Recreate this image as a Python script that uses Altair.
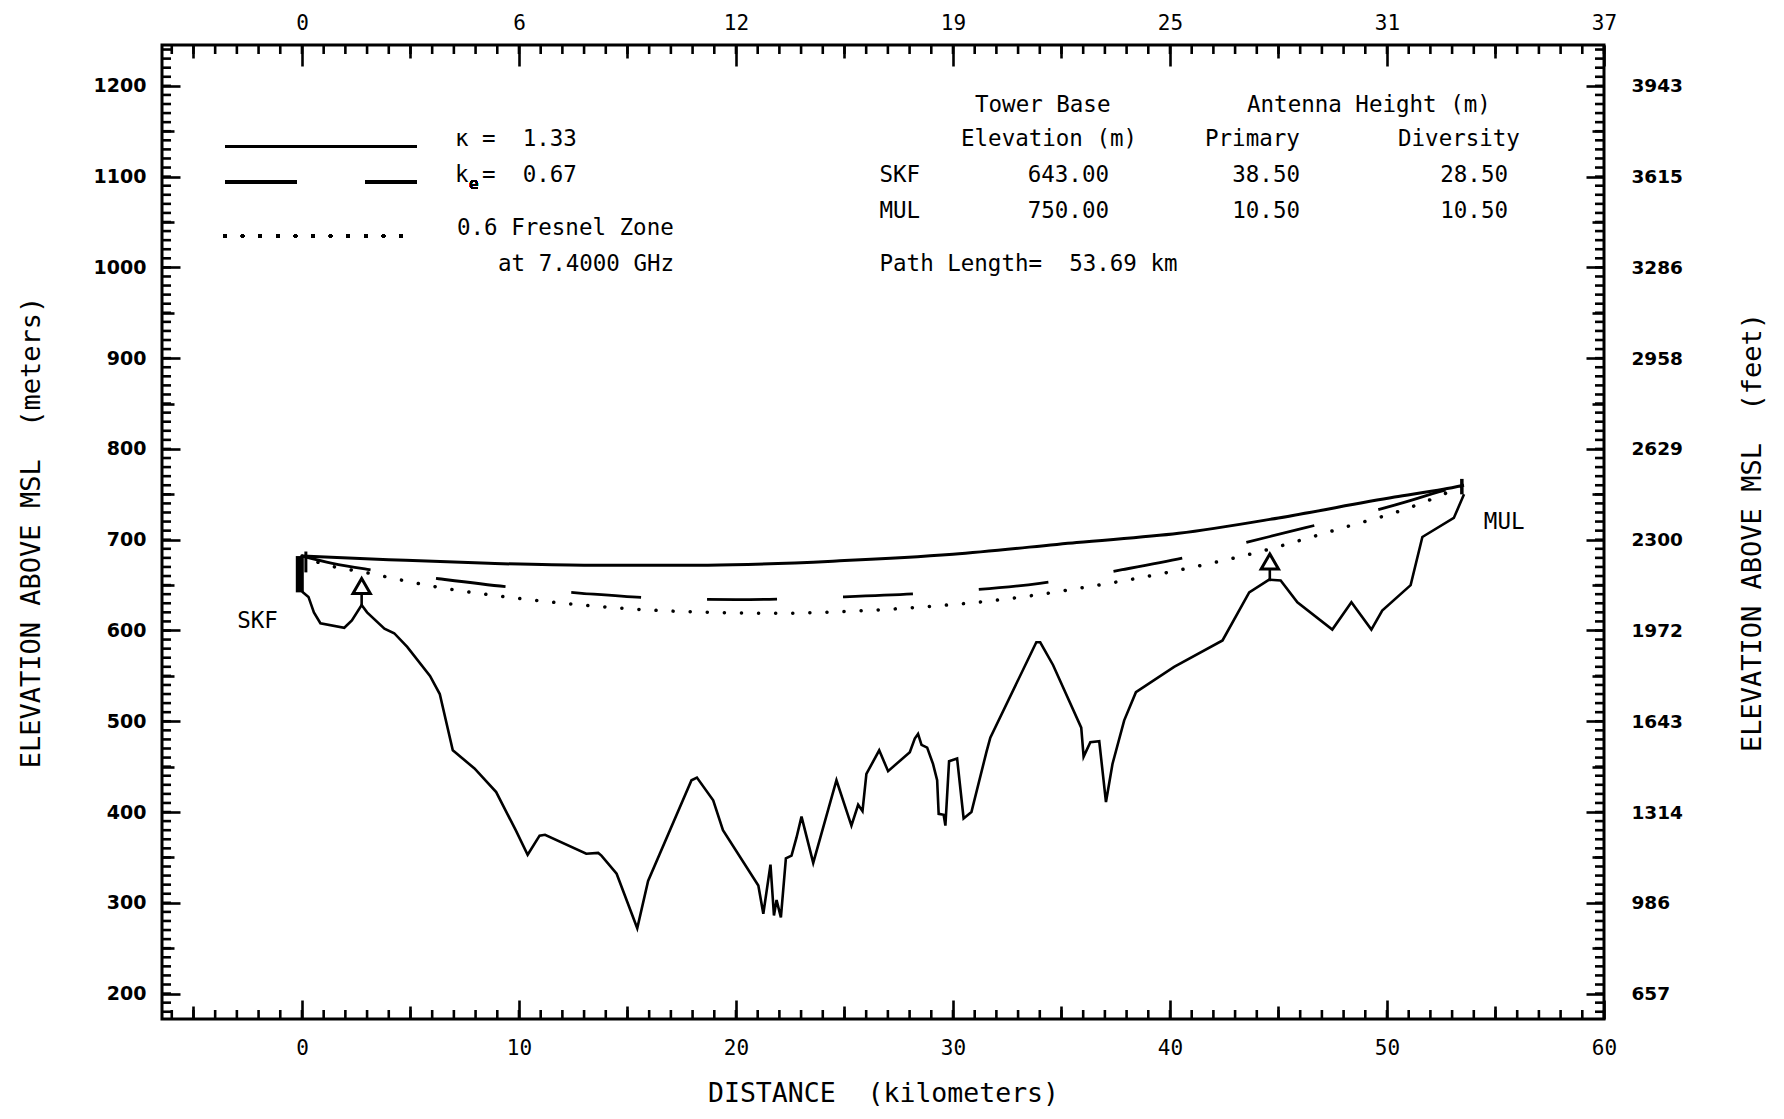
import json
import altair as alt
import pandas as pd

# ---------------- data ----------------
TERRAIN_KM = [0.0, 0.3, 0.55, 0.85, 1.95, 2.3, 2.75, 3.0, 3.8, 4.25, 4.85, 5.9, 6.35, 6.95,
              7.95, 8.95, 9.85, 10.4, 10.95, 11.2, 13.1, 13.65, 13.8, 14.5, 15.45, 15.95,
              17.95, 18.2, 18.95, 19.4, 21.03, 21.26, 21.59, 21.75, 21.87, 22.07, 22.3,
              22.56, 22.79, 23.02, 23.56, 24.63, 25.32, 25.63, 25.83, 26.01, 26.6, 27.01,
              28.01, 28.24, 28.39, 28.55, 28.81, 29.08, 29.27, 29.34, 29.57, 29.65, 29.82,
              30.19, 30.49, 30.85, 31.54, 31.72, 33.84, 34.02, 34.61, 35.91, 36.02, 36.33,
              36.74, 37.05, 37.35, 37.89, 38.43, 40.19, 42.42, 43.65, 44.57, 45.1, 45.87,
              47.48, 48.36, 49.28, 49.78, 51.09, 51.63, 53.08, 53.55]
TERRAIN_M = [643, 637, 620, 608, 603, 611, 628, 620, 602, 597, 582, 550, 530, 468,
             448, 422, 380, 353, 374, 375, 354, 355, 352, 332, 272, 324,
             435, 438, 413, 380, 319, 288, 342, 286, 303, 284, 349,
             352, 372, 395, 344, 435, 385, 408, 401, 442, 468, 445,
             466, 481, 486, 474, 471, 453, 435, 398, 397, 385, 456,
             459, 393, 400, 466, 482, 587, 587, 562, 493, 461, 477,
             478, 411, 453, 501, 532, 560, 589, 642, 656, 655, 631,
             601, 631, 601, 622, 650, 703, 724, 750]

K133_KM = [0, 4, 8.6, 13, 18.7, 25, 30, 35.7, 40.4, 45, 50.35, 52.6, 53.55]
K133_M = [682, 678, 674, 672, 672, 677, 684, 697, 707, 724, 747, 755.5, 760]

K067_KM = [0, 1.4, 3.1, 6.3, 9.9, 12.9, 16, 20, 25, 30, 34, 37.8, 41, 43, 46.2, 50.35, 52.6, 53.55]
K067_M = [682, 674, 667, 657, 647, 641, 636, 634, 637, 643, 652, 667, 682, 694, 713, 738, 754, 760]

FRES_KM = [0, 0.75, 3.1, 6.2, 9.4, 12.5, 15.7, 18.8, 22, 26, 29.2, 31.5, 36.2, 40.1, 44, 47.8, 51, 52.5, 53.55]
FRES_M = [682, 675, 663, 648, 637, 629, 623, 620, 619, 622, 627, 632, 648, 665, 686, 712, 735, 749, 760]

OBST_KM = [2.75, 44.6]
OBST_GROUND = [628, 656]
OBST_BASE = [641, 667]
OBST_MARK = [649, 676]

SITE_NAMES = ["SKF", "MUL"]
SITE_LABEL_KM = [-2.05, 55.4]
SITE_LABEL_M = [610, 719]

X_TICKS = [0, 10, 20, 30, 40, 50, 60]
TOP_LABELS = ["0", "6", "12", "19", "25", "31", "37"]
Y_TICKS = [200, 300, 400, 500, 600, 700, 800, 900, 1000, 1100, 1200]
FEET_LABELS = ["657", "986", "1314", "1643", "1972", "2300", "2629", "2958", "3286", "3615", "3943"]

X_MID = [-5, 5, 15, 25, 35, 45, 55]
X_MINOR = list(range(-6, 61))
Y_MID = list(range(250, 1200, 100))
Y_MINOR = list(range(180, 1241, 10))

NB = "\u00a0"  # keeps double spaces in SVG text

# ---------------- layout ----------------
W, H = 1442, 974
XS = alt.Scale(domain=[-6.45, 60], nice=False, zero=False)
YS = alt.Scale(domain=[172, 1245], nice=False, zero=False)
MONO = "DejaVu Sans Mono"
TXT = 22.5

terr = pd.DataFrame({"km": TERRAIN_KM, "m": TERRAIN_M})
k133 = pd.DataFrame({"km": K133_KM, "m": K133_M})
k067 = pd.DataFrame({"km": K067_KM, "m": K067_M})
fres = pd.DataFrame({"km": FRES_KM, "m": FRES_M})
obst = pd.DataFrame({"km": OBST_KM, "g": OBST_GROUND, "b": OBST_BASE, "t": OBST_MARK})
sites = pd.DataFrame({"name": SITE_NAMES, "km": SITE_LABEL_KM, "m": SITE_LABEL_M})
towers = pd.DataFrame({"km": [-0.1, 53.45], "b": [642, 750], "t": [682, 767], "w": [8, 3.5]})
mast = pd.DataFrame({"km": [0.18], "b": [664], "t": [687]})
xminor = pd.DataFrame({"xv": X_MINOR})
yminor = pd.DataFrame({"yv": Y_MINOR})

X = lambda f="km": alt.X(f"{f}:Q", scale=XS, axis=None)
Y = lambda f="m": alt.Y(f"{f}:Q", scale=YS, axis=None)

terrain_line = alt.Chart(terr).mark_line(color="black", strokeWidth=2.6).encode(x=X(), y=Y(), order="km:Q")
k133_line = alt.Chart(k133).mark_line(color="black", strokeWidth=3, interpolate="monotone").encode(x=X(), y=Y())
k067_line = alt.Chart(k067).mark_line(color="black", strokeWidth=2.8, interpolate="monotone",
                                      strokeDash=[70, 66]).encode(x=X(), y=Y())
fres_line = alt.Chart(fres).mark_line(color="black", strokeWidth=3.5, interpolate="monotone",
                                      strokeDash=[0.1, 17], strokeCap="round").encode(x=X(), y=Y())
stems = alt.Chart(obst).mark_rule(color="black", strokeWidth=2.6).encode(x=X(), y=Y("g"), y2="b:Q")
tris = alt.Chart(obst).mark_point(shape="triangle-up", filled=True, fill="white", stroke="black",
                                  strokeWidth=3, size=300, opacity=1).encode(x=X(), y=Y("t"))
tower_rules = alt.Chart(towers).mark_rule(color="black").encode(
    x=X(), y=Y("b"), y2="t:Q", strokeWidth=alt.StrokeWidth("w:Q", scale=None, legend=None))
mast_rule = alt.Chart(mast).mark_rule(color="black", strokeWidth=3).encode(x=X(), y=Y("b"), y2="t:Q")
site_text = alt.Chart(sites).mark_text(font=MONO, fontSize=TXT, color="black").encode(
    x=X(), y=Y(), text="name:N")

# minor inward ticks on all four sides of the frame
MT = 2.6
minor_bottom = alt.Chart(xminor).mark_rule(color="black", strokeWidth=MT).encode(
    x=X("xv"), y=alt.value(H), y2=alt.value(H - 9))
minor_top = alt.Chart(xminor).mark_rule(color="black", strokeWidth=MT).encode(
    x=X("xv"), y=alt.value(0), y2=alt.value(9))
minor_left = alt.Chart(yminor).mark_tick(color="black", orient="horizontal", size=9, thickness=MT,
                                         opacity=1).encode(y=Y("yv"), x=alt.value(4.5))
minor_right = alt.Chart(yminor).mark_tick(color="black", orient="horizontal", size=9, thickness=MT,
                                          opacity=1).encode(y=Y("yv"), x=alt.value(W - 4.5))

# legend samples (pixel positions in the plot area)
leg_solid = alt.Chart(terr).mark_rule(color="black", strokeWidth=2.8).encode(
    x=alt.value(63), x2=alt.value(255), y=alt.value(101.5))
leg_dash = alt.Chart(terr).mark_rule(color="black", strokeWidth=2.8, strokeDash=[72, 68]).encode(
    x=alt.value(63), x2=alt.value(255), y=alt.value(137))
leg_dot = alt.Chart(terr).mark_rule(color="black", strokeWidth=3.5, strokeDash=[0.1, 17.5],
                                    strokeCap="round").encode(
    x=alt.value(63), x2=alt.value(240), y=alt.value(191))

LEFT_TEXT = [f"κ ={NB}{NB}1.33", "k", f"={NB}{NB}0.67", "0.6 Fresnel Zone", "at 7.4000 GHz",
             "Tower Base", "Antenna Height (m)", "Elevation (m)", "Primary", "Diversity",
             "SKF", "MUL", f"Path Length={NB}{NB}53.69 km"]
LEFT_X = [293, 293, 320, 295, 336, 813, 1085, 799, 1043, 1236, 717.5, 717.5, 717.5]
LEFT_Y = [94, 130, 130, 183, 219, 60, 60, 94, 94, 94, 130, 166, 219]
RIGHT_TEXT = ["643.00", "38.50", "28.50", "750.00", "10.50", "10.50"]
RIGHT_X = [947, 1138, 1346, 947, 1138, 1346]
RIGHT_Y = [130, 130, 130, 166, 166, 166]

lt = pd.DataFrame({"t": LEFT_TEXT, "px": LEFT_X, "py": LEFT_Y})
rt = pd.DataFrame({"t": RIGHT_TEXT, "px": RIGHT_X, "py": RIGHT_Y})
PX = alt.X("px:Q", scale=None, axis=None)
PY = alt.Y("py:Q", scale=None, axis=None)
left_text = alt.Chart(lt).mark_text(font=MONO, fontSize=TXT, align="left", baseline="middle",
                                    color="black").encode(x=PX, y=PY, text="t:N")
right_text = alt.Chart(rt).mark_text(font=MONO, fontSize=TXT, align="right", baseline="middle",
                                     color="black").encode(x=PX, y=PY, text="t:N")
sub_e = alt.Chart(terr).mark_text(font=MONO, fontSize=16, align="left", baseline="middle",
                                  color="black", text="e").encode(x=alt.value(307), y=alt.value(139))

# ---------------- axes ----------------
def tick_axis(orient, values, size, width, offset):
    return alt.Axis(orient=orient, values=values, tickCount=1000, tickSize=size, tickWidth=width,
                    offset=offset, labels=False, domain=False, grid=False, ticks=True, title=None,
                    tickColor="black", labelOverlap=False)

ax_bottom = alt.Axis(orient="bottom", values=X_TICKS, ticks=False, tickSize=0, domain=False, grid=False,
                     labelFont=MONO, labelFontSize=21, labelPadding=18, labelFlush=False, format="d",
                     labelColor="black", title=f"DISTANCE{NB}{NB}(kilometers)", titleFont=MONO,
                     titleFontSize=26.5, titleFontWeight="normal", titleY=74, titleBaseline="middle",
                     titleColor="black")
ax_top = alt.Axis(orient="top", values=X_TICKS, ticks=False, tickSize=0, domain=False, grid=False,
                  labelFont=MONO, labelFontSize=21, labelPadding=12, labelFlush=False,
                  labelColor="black", labelExpr=f"{json.dumps(TOP_LABELS)}[round(datum.value/10)]",
                  title=None)
ax_left = alt.Axis(orient="left", values=Y_TICKS, ticks=False, tickSize=0, domain=False, grid=False,
                   labelFont="DejaVu Sans", labelFontWeight="bold", labelFontSize=19, labelPadding=16,
                   labelFlush=False, labelColor="black", format="d",
                   title=f"ELEVATION ABOVE MSL{NB}{NB}(meters)", titleFont=MONO, titleFontSize=27,
                   titleFontWeight="normal", titleX=-131, titleBaseline="middle", titleAngle=270,
                   titleColor="black")
ax_right = alt.Axis(orient="right", values=Y_TICKS, ticks=False, tickSize=0, domain=False, grid=False,
                    labelFont="DejaVu Sans", labelFontWeight="bold", labelFontSize=18.5, labelPadding=27,
                    labelFlush=False, labelColor="black",
                    labelExpr=f"{json.dumps(FEET_LABELS)}[round((datum.value-200)/100)]",
                    title=f"ELEVATION ABOVE MSL{NB}{NB}(feet)", titleFont=MONO, titleFontSize=27,
                    titleFontWeight="normal", titleX=148, titleBaseline="middle", titleAngle=270,
                    titleColor="black")


def carrier(xaxis, yaxis):
    return alt.Chart(terr).mark_point(opacity=0).encode(
        x=alt.X("km:Q", scale=XS, axis=xaxis), y=alt.Y("m:Q", scale=YS, axis=yaxis))


carriers = [
    carrier(ax_bottom, ax_left),
    carrier(ax_top, ax_right),
    carrier(tick_axis("top", X_TICKS, 19, 2.6, -H), tick_axis("right", Y_TICKS, 18, 2.6, -W)),
    carrier(tick_axis("top", X_MID, 13, 2.6, -H), tick_axis("right", Y_MID, 12, 2.6, -W)),
    carrier(tick_axis("bottom", X_TICKS, 21, 2.6, -H), tick_axis("left", Y_TICKS, 18, 2.6, -W)),
    carrier(tick_axis("bottom", X_MID, 13, 2.6, -H), tick_axis("left", Y_MID, 12, 2.6, -W)),
]

chart = alt.layer(
    *carriers,
    minor_bottom, minor_top, minor_left, minor_right,
    terrain_line, k133_line, k067_line, fres_line, stems, tris, tower_rules, mast_rule,
    site_text, leg_solid, leg_dash, leg_dot, left_text, right_text, sub_e,
).resolve_axis(x="independent", y="independent").properties(
    width=W, height=H,
    background="white",
    autosize=alt.AutoSizeParams(type="none"),
    padding={"left": 154, "top": 37, "right": 170, "bottom": 88},
).configure_view(stroke="black", strokeWidth=3)

chart.save("out.html", embed_options={"renderer": "svg", "actions": False})
